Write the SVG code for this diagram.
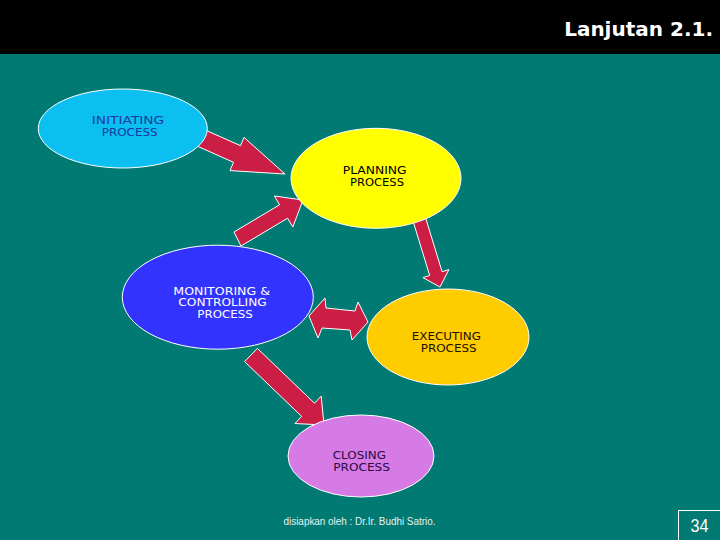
<svg xmlns="http://www.w3.org/2000/svg" width="720" height="540" viewBox="0 0 720 540">
  <style>
    .arrow { fill: #CC1E44; stroke: #FFFFFF; stroke-width: 1; stroke-linejoin: miter; }
    .node { stroke: #FFFFFF; stroke-width: 1; }
    .lbl { font-family: "DejaVu Sans", "Liberation Sans", sans-serif; font-size: 9.8px; }
  </style>
  <rect x="0" y="0" width="720" height="540" fill="#007A72"/>
  <rect x="0" y="0" width="720" height="54" fill="#000000"/>
  <text x="713" y="36" text-anchor="end" font-family="DejaVu Sans, Liberation Sans, sans-serif" font-size="20" font-weight="bold" fill="#FFFFFF">Lanjutan 2.1.</text>

  <g id="connectors">
    <polygon class="arrow" points="203,129 240.5,145.7 244,137.4 285,174 230,170.6 233.5,162.3 197,146"/>
    <polygon class="arrow" points="241,246 287.6,218.2 292.8,227 303,200 274.4,196 279.6,204.8 234,232"/>
    <polygon class="arrow" points="413.3,221.9 429.7,275.5 422.9,277.6 440,287 448.9,269.6 442.1,271.7 425.7,218.1"/>
    <polygon class="arrow" points="309,316 325,298 326,308 355,311 358,302 368,322 352,340 350,330 322,328 318,338"/>
    <polygon class="arrow" points="257.4,348.4 314.5,403.2 321.2,396.1 324,425 295,423.5 301.7,416.4 244.6,361.6"/>
  </g>

  <g id="initiating">
    <ellipse class="node" cx="122.8" cy="128.5" rx="84.5" ry="39.5" fill="#0BBFF0"/>
    <text class="lbl" x="91.7" y="124" textLength="72.6" lengthAdjust="spacingAndGlyphs" fill="#1A3AA0">INITIATING</text>
    <text class="lbl" x="101.7" y="135.7" textLength="56" lengthAdjust="spacingAndGlyphs" fill="#1A3AA0">PROCESS</text>
  </g>

  <g id="planning">
    <ellipse class="node" cx="376" cy="178.3" rx="85" ry="50" fill="#FFFF00"/>
    <text class="lbl" x="342.7" y="174" textLength="64" lengthAdjust="spacingAndGlyphs" fill="#000000">PLANNING</text>
    <text class="lbl" x="350" y="185.7" textLength="54" lengthAdjust="spacingAndGlyphs" fill="#000000">PROCESS</text>
  </g>

  <g id="monitoring">
    <ellipse class="node" cx="217.8" cy="297.2" rx="95.5" ry="52" fill="#3333FF"/>
    <text class="lbl" x="173.3" y="295" textLength="96.7" lengthAdjust="spacingAndGlyphs" fill="#FFFFFF">MONITORING &amp;</text>
    <text class="lbl" x="178.3" y="306.3" textLength="88.4" lengthAdjust="spacingAndGlyphs" fill="#FFFFFF">CONTROLLING</text>
    <text class="lbl" x="197.3" y="317.7" textLength="55.4" lengthAdjust="spacingAndGlyphs" fill="#FFFFFF">PROCESS</text>
  </g>

  <g id="executing">
    <ellipse class="node" cx="448" cy="337" rx="81" ry="48" fill="#FFCC00"/>
    <text class="lbl" x="411.7" y="340.2" textLength="69.3" lengthAdjust="spacingAndGlyphs" fill="#1A1000">EXECUTING</text>
    <text class="lbl" x="420.7" y="351.9" textLength="56" lengthAdjust="spacingAndGlyphs" fill="#1A1000">PROCESS</text>
  </g>

  <g id="closing">
    <ellipse class="node" cx="361" cy="456" rx="73" ry="41" fill="#D67BE6"/>
    <text class="lbl" x="332.7" y="459" textLength="53.3" lengthAdjust="spacingAndGlyphs" fill="#2A0A40">CLOSING</text>
    <text class="lbl" x="333.3" y="470.7" textLength="56.7" lengthAdjust="spacingAndGlyphs" fill="#2A0A40">PROCESS</text>
  </g>

  <text x="283.5" y="525" textLength="152" lengthAdjust="spacingAndGlyphs" font-family="Liberation Sans, Arial, sans-serif" font-size="10" fill="#E6F2F0">disiapkan oleh : Dr.Ir. Budhi Satrio.</text>
  <rect x="678.5" y="510.5" width="45" height="35" fill="none" stroke="#FFFFFF" stroke-width="1"/>
  <text x="690.5" y="531.7" textLength="18" lengthAdjust="spacingAndGlyphs" font-family="Liberation Sans, Arial, sans-serif" font-size="18" fill="#FFFFFF">34</text>
</svg>
